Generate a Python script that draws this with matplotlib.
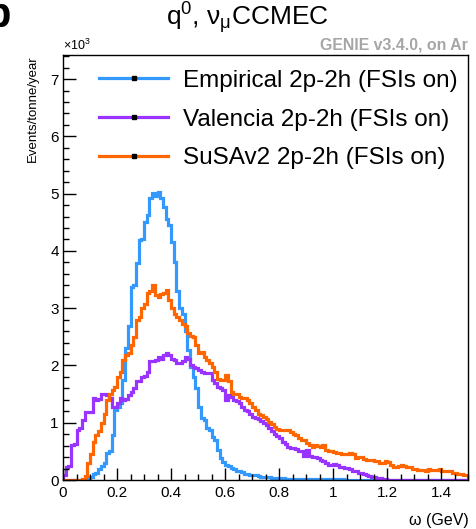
"""Energy transfer (q0) distribution for numu CC MEC events, three 2p-2h models."""

import matplotlib

matplotlib.use("Agg")
import matplotlib.pyplot as plt
import numpy as np
from matplotlib.lines import Line2D
from matplotlib.ticker import FuncFormatter, MultipleLocator

# omega binning: 150 bins of 10 MeV from 0 to 1.5 GeV
OMEGA_MIN = 0.0
OMEGA_MAX = 1.5
N_BINS = 150

# events/tonne/year in units of 10^3, one value per bin
empirical = [
    0, 0, 0, 0, 0, 0, 0, 0.01, 0.02, 0.04,
    0.06, 0.10, 0.12, 0.20, 0.25, 0.29, 0.47, 0.50, 0.79, 1.22,
    1.28, 1.35, 1.75, 2.30, 2.68, 3.37, 3.40, 3.78, 4.19, 4.21,
    4.50, 4.62, 4.93, 5.01, 4.96, 5.02, 4.93, 4.77, 4.55, 4.45,
    4.16, 3.80, 3.30, 3.00, 2.90, 2.60, 2.27, 1.98, 1.80, 1.60,
    1.28, 1.08, 1.04, 0.90, 0.88, 0.75, 0.70, 0.52, 0.38, 0.32,
    0.27, 0.25, 0.21, 0.19, 0.16, 0.15, 0.14, 0.11, 0.10, 0.09,
    0.08, 0.08, 0.07, 0.06, 0.06, 0.05, 0.05, 0.04, 0.04, 0.03,
    0.03, 0.03, 0.02, 0.02, 0.02, 0.02, 0.02, 0.01, 0.01, 0.01,
    0.01, 0.01, 0.01, 0.01, 0.01, 0.01, 0.01, 0.01, 0.01, 0.01,
    0.01, 0.01, 0.01, 0.01, 0.005, 0.005, 0.005, 0.005, 0.005, 0.005,
    0.005, 0.005, 0.004, 0.004, 0.003, 0.003, 0.002, 0.002, 0.001, 0.001,
    0, 0, 0, 0, 0, 0, 0, 0, 0, 0,
    0, 0, 0, 0, 0, 0, 0, 0, 0, 0,
    0, 0, 0, 0, 0, 0, 0, 0, 0, 0,
]

valencia = [
    0.08, 0.23, 0.24, 0.61, 0.63, 0.87, 0.90, 1.05, 1.19, 1.19,
    1.18, 1.43, 1.40, 1.42, 1.51, 1.51, 1.48, 1.43, 1.28, 1.28,
    1.34, 1.43, 1.40, 1.42, 1.48, 1.54, 1.60, 1.72, 1.72, 1.80,
    1.82, 1.89, 2.07, 2.07, 2.09, 2.15, 2.12, 2.18, 2.21, 2.18,
    2.12, 2.09, 2.04, 2.04, 2.07, 2.15, 2.12, 2.00, 1.98, 1.95,
    1.92, 1.89, 1.87, 1.86, 1.86, 1.75, 1.69, 1.63, 1.60, 1.57,
    1.40, 1.48, 1.45, 1.40, 1.38, 1.34, 1.28, 1.22, 1.20, 1.16,
    1.10, 1.08, 1.06, 1.03, 1.00, 0.96, 0.90, 0.86, 0.81, 0.76,
    0.73, 0.67, 0.62, 0.58, 0.56, 0.55, 0.54, 0.51, 0.50, 0.42,
    0.52, 0.42, 0.41, 0.40, 0.38, 0.35, 0.33, 0.29, 0.26, 0.27,
    0.28, 0.26, 0.23, 0.22, 0.21, 0.21, 0.19, 0.16, 0.15, 0.13,
    0.12, 0.10, 0.08, 0.07, 0.06, 0.05, 0.04, 0.03, 0.02, 0.01,
    0, 0, 0, 0, 0, 0, 0, 0, 0, 0,
    0, 0, 0, 0, 0, 0, 0, 0, 0, 0,
    0, 0, 0, 0, 0, 0, 0, 0, 0, 0,
]

susav2 = [
    0, 0, 0, 0, 0, 0, 0, 0.02, 0.07, 0.29,
    0.45, 0.67, 0.79, 0.85, 0.99, 1.16, 1.40, 1.51, 1.58, 1.62,
    1.80, 1.89, 2.09, 2.18, 2.22, 2.36, 2.50, 2.79, 2.85, 3.00,
    3.08, 3.26, 3.30, 3.41, 3.23, 3.20, 3.25, 3.27, 3.32, 3.14,
    3.00, 2.90, 2.85, 2.79, 2.73, 2.68, 2.56, 2.52, 2.50, 2.36,
    2.21, 2.24, 2.15, 2.10, 2.04, 1.98, 1.89, 1.77, 1.75, 1.75,
    1.83, 1.72, 1.54, 1.51, 1.50, 1.45, 1.43, 1.43, 1.40, 1.34,
    1.28, 1.22, 1.16, 1.13, 1.10, 1.06, 1.02, 0.98, 0.93, 0.89,
    0.88, 0.88, 0.88, 0.87, 0.84, 0.80, 0.78, 0.73, 0.70, 0.69,
    0.65, 0.61, 0.58, 0.61, 0.60, 0.58, 0.61, 0.52, 0.51, 0.50,
    0.49, 0.48, 0.47, 0.45, 0.45, 0.45, 0.47, 0.45, 0.38, 0.41,
    0.40, 0.36, 0.35, 0.35, 0.35, 0.34, 0.33, 0.29, 0.30, 0.34,
    0.32, 0.26, 0.22, 0.23, 0.24, 0.26, 0.25, 0.23, 0.23, 0.20,
    0.20, 0.17, 0.17, 0.17, 0.16, 0.19, 0.17, 0.17, 0.18, 0.19,
    0.16, 0.16, 0.16, 0.15, 0.13, 0.12, 0.10, 0.10, 0.09, 0.09,
]

labels = [
    "Empirical 2p-2h (FSIs on)",
    "Valencia 2p-2h (FSIs on)",
    "SuSAv2 2p-2h (FSIs on)",
]
colors = ["#3399ff", "#9933ff", "#ff6600"]

plt.rcParams["font.family"] = ["Liberation Sans", "DejaVu Sans"]
plt.rcParams["mathtext.fontset"] = "custom"
plt.rcParams["mathtext.rm"] = "Liberation Sans"
plt.rcParams["mathtext.it"] = "Liberation Sans:italic"
plt.rcParams["mathtext.default"] = "regular"


def main() -> None:
    edges = np.linspace(OMEGA_MIN, OMEGA_MAX, N_BINS + 1)
    fig = plt.figure(figsize=(4.76, 5.29), dpi=100)
    ax = fig.add_axes([63 / 476, 49 / 529, 405.3 / 476, 425 / 529])

    for values, color in zip([empirical, valencia, susav2], colors):
        ax.stairs(values, edges, color=color, lw=2.3, baseline=0)

    ax.set_xlim(OMEGA_MIN, OMEGA_MAX)
    ax.set_ylim(0, 7.42)

    # ROOT-like axis: inward ticks on left/bottom only
    ax.xaxis.set_major_locator(MultipleLocator(0.2))
    ax.xaxis.set_minor_locator(MultipleLocator(0.05))
    ax.yaxis.set_major_locator(MultipleLocator(1))
    ax.yaxis.set_minor_locator(MultipleLocator(0.2))
    ax.xaxis.set_major_formatter(FuncFormatter(lambda v, _: f"{v:g}"))
    ax.yaxis.set_major_formatter(FuncFormatter(lambda v, _: f"{v:g}"))
    ax.tick_params(which="both", direction="in", top=False, right=False, width=1, colors="black")
    ax.tick_params(which="major", length=9)
    ax.tick_params(which="minor", length=4.6)
    ax.tick_params(axis="x", labelsize=11, pad=4)
    ax.tick_params(axis="y", labelsize=11, pad=3)
    for spine in ax.spines.values():
        spine.set_linewidth(1)

    ax.set_ylabel("Events/tonne/year", fontsize=9.5, loc="top", labelpad=8)
    ax.set_xlabel("ω (GeV)", fontsize=11.5, loc="right", labelpad=10)

    handles = [
        Line2D([0], [0], color=c, lw=2.3, marker="s", ms=2.5, mfc="black", mec="black")
        for c in colors
    ]
    ax.legend(
        handles, labels, loc="upper left", bbox_to_anchor=(0.09, 0.9654),
        frameon=False, fontsize=17.5, handlelength=2.8, handletextpad=0.62,
        labelspacing=0.69, borderpad=0, borderaxespad=0, numpoints=1,
    )

    fig.text(0.52, 0.966, "q$^{0}$, ν$_{μ}$CCMEC", ha="center", va="center", fontsize=19)
    fig.text(63 / 476, 1 - 50 / 529, "×10$^{3}$", ha="left", va="baseline", fontsize=9)
    fig.text(468 / 476, 1 - 50 / 529, "GENIE v3.4.0, on Ar", ha="right", va="baseline",
             fontsize=11.4, fontweight="bold", color="#a6a6a6")
    # cropped panel letter at the very top-left corner
    fig.text(11 / 476, 1 - 27 / 529, "b", ha="right", va="baseline", fontsize=30,
             fontweight="bold")

    fig.savefig("out.png", dpi=100)
    plt.close(fig)


if __name__ == "__main__":
    main()
